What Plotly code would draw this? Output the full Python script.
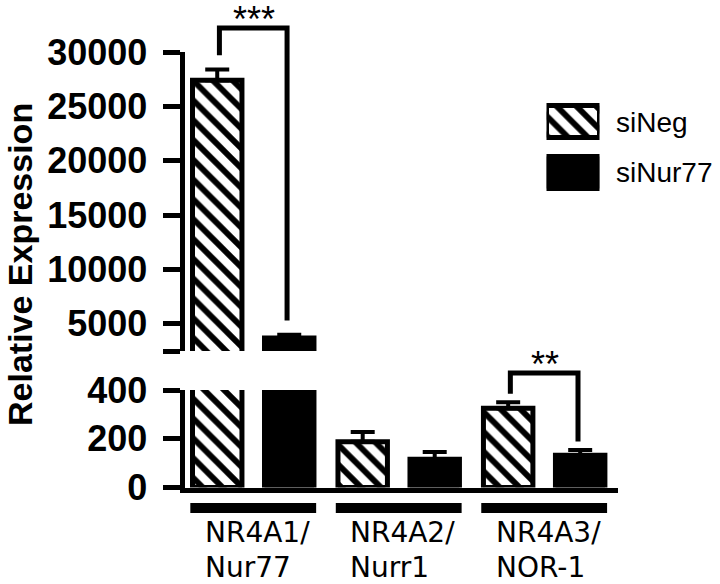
import plotly.graph_objects as go

# ---------------- data ----------------
categories = ["NR4A1/Nur77", "NR4A2/Nurr1", "NR4A3/NOR-1"]
label_line1 = ["NR4A1/", "NR4A2/", "NR4A3/"]
label_line2 = ["Nur77", "Nurr1", "NOR-1"]
series_names = ["siNeg", "siNur77"]
sineg_values = [27400, 188, 325]
sineg_errors = [1000, 40, 25]
sinur77_values = [3700, 116, 132]
sinur77_errors = [300, 30, 22]
upper_ticks = [5000, 10000, 15000, 20000, 25000, 30000]
lower_ticks = [0, 200, 400]
upper_range = [2500, 30000]
lower_range = [0, 400]
significance_groups = [0, 2]
significance_labels = ["***", "**"]
significance_levels = [32200, 470]

# ---------------- layout helpers ----------------
W, H = 720, 584


def px_x(p):
    return p / W


def px_y(p):
    return 1 - p / H


x_pos = list(range(len(categories)))
BAR_W = 0.34
OFF_NEG = -0.42
OFF_NUR = 0.075

fig = go.Figure()

neg_marker = dict(color="white", line=dict(color="black", width=5),
                  pattern=dict(shape="\\", size=14, solidity=0.42,
                               fgcolor="black", bgcolor="white", fgopacity=1))
nur_marker = dict(color="black", line=dict(color="black", width=5))


def err(arr):
    return dict(type="data", array=arr, arrayminus=[0] * len(arr), symmetric=False,
                color="black", thickness=4, width=12)


for xa, ya in (("x", "y"), ("x2", "y2")):
    fig.add_trace(go.Bar(x=x_pos, y=sineg_values, error_y=err(sineg_errors),
                         width=BAR_W, offset=OFF_NEG, marker=neg_marker, hoverinfo="skip",
                         name=series_names[0], showlegend=False, xaxis=xa, yaxis=ya))
    fig.add_trace(go.Bar(x=x_pos, y=sinur77_values, error_y=err(sinur77_errors),
                         width=BAR_W, offset=OFF_NUR, marker=nur_marker, hoverinfo="skip",
                         name=series_names[1], showlegend=False, xaxis=xa, yaxis=ya))

# legend boxes drawn as a tiny bar subplot
fig.add_trace(go.Bar(x=[1], y=[1], orientation="h", width=0.63, marker=neg_marker,
                     cliponaxis=False, showlegend=False, hoverinfo="skip",
                     xaxis="x3", yaxis="y3"))
fig.add_trace(go.Bar(x=[1], y=[0], orientation="h", width=0.63, marker=nur_marker,
                     cliponaxis=False, showlegend=False, hoverinfo="skip",
                     xaxis="x3", yaxis="y3"))

x_dom = [px_x(184.5), px_x(618)]
x_rng = [-0.475, 2.505]
tickfont = dict(family="Liberation Sans, Arial", size=36, color="black", weight="bold")

common_y = dict(showgrid=False, zeroline=False, showline=True, linecolor="black", linewidth=5,
                ticks="outside", ticklen=17, tickwidth=5, tickcolor="black",
                tickfont=tickfont, ticklabelstandoff=8, automargin=False)

fig.update_layout(
    width=W, height=H,
    margin=dict(l=0, r=0, t=0, b=0),
    paper_bgcolor="white", plot_bgcolor="white",
    barmode="overlay",
    xaxis=dict(domain=x_dom, range=x_rng, anchor="y", showline=True, linecolor="black",
               linewidth=5, showticklabels=False, ticks="", showgrid=False, zeroline=False,
               automargin=False),
    xaxis2=dict(domain=x_dom, range=x_rng, anchor="y2", visible=False, matches="x"),
    yaxis=dict(domain=[px_y(487.5), px_y(390)], range=lower_range, anchor="x",
               tickvals=lower_ticks, ticktext=[str(v) for v in lower_ticks], **common_y),
    yaxis2=dict(domain=[px_y(351), px_y(52)], range=upper_range, anchor="x2",
                tickvals=[upper_range[0]] + upper_ticks,
                ticktext=[""] + [str(v) for v in upper_ticks], **common_y),
    xaxis3=dict(domain=[px_x(546.5), px_x(599.5)], range=[0, 1], anchor="y3", visible=False),
    yaxis3=dict(domain=[px_y(198), px_y(96)], range=[-0.5, 1.5], anchor="x3", visible=False),
)

shapes = []
annotations = []

# significance brackets
pads = {"y2": 1300, "y": 35}
for g, lab, lvl in zip(significance_groups, significance_labels, significance_levels):
    top_neg = sineg_values[g] + sineg_errors[g]
    top_nur = sinur77_values[g] + sinur77_errors[g]
    ax = "y2" if top_neg > lower_range[1] else "y"
    rng = upper_range if ax == "y2" else lower_range

    def frac(v):
        return (v - rng[0]) / (rng[1] - rng[0])

    xl, xr = g - 0.235, g + 0.23
    path = (f"M {xl},{frac(top_neg + pads[ax])} L {xl},{frac(lvl)} "
            f"L {xr},{frac(lvl)} L {xr},{frac(top_nur + pads[ax])}")
    shapes.append(dict(type="path", path=path, xref="x", yref=f"{ax} domain",
                       line=dict(color="black", width=5)))
    annotations.append(dict(x=g, y=frac(lvl), xref="x", yref=f"{ax} domain",
                            text=lab, showarrow=False, yanchor="bottom", yshift=-14,
                            font=dict(family="Liberation Sans, Arial", size=36, color="black")))

# category underline bars and labels
for i in x_pos:
    shapes.append(dict(type="rect", xref="x", yref="paper", x0=i - 0.435, x1=i + 0.43,
                       y0=px_y(513), y1=px_y(503), fillcolor="black", line=dict(width=0)))
    annotations.append(dict(x=i - 0.35, y=px_y(532), xref="x", yref="paper", text=label_line1[i],
                            xanchor="left", yanchor="middle", showarrow=False,
                            font=dict(family="DejaVu Sans", size=28, color="black")))
    annotations.append(dict(x=i - 0.35, y=px_y(567), xref="x", yref="paper", text=label_line2[i],
                            xanchor="left", yanchor="middle", showarrow=False,
                            font=dict(family="DejaVu Sans", size=28, color="black")))

# legend text
for name, yc in zip(series_names, [122, 172]):
    annotations.append(dict(x=px_x(614), y=px_y(yc), xref="paper", yref="paper", text=name,
                            xanchor="left", yanchor="middle", showarrow=False,
                            font=dict(family="Liberation Sans, Arial", size=28, color="black")))

# y axis title
annotations.append(dict(x=px_x(20), y=px_y(265), xref="paper", yref="paper",
                        text="<b>Relative Expression</b>", textangle=-90, showarrow=False,
                        xanchor="center", yanchor="middle",
                        font=dict(family="Liberation Sans, Arial", size=34, color="black")))

fig.update_layout(shapes=shapes, annotations=annotations, hovermode=False)

fig.write_html("out.html", config={"displayModeBar": False},
               post_script="document.body.style.margin='0';document.body.style.overflow='hidden';")
